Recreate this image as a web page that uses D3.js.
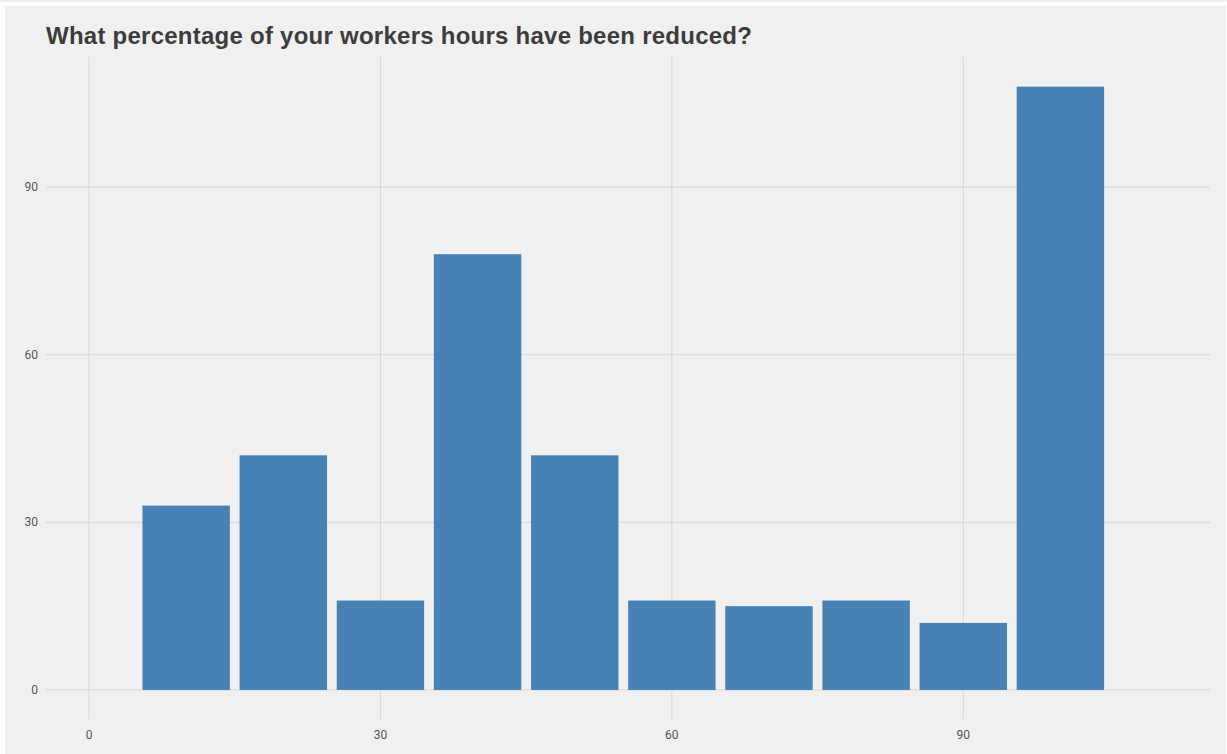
<!DOCTYPE html>
<html>
  <head>
    <title>Reduced hours</title>
    <script src="https://cdn.jsdelivr.net/npm/d3@7"></script>
    <style>
      body { margin: 0; background: #ffffff; }
      .tick-label { font-family: Roboto, "Liberation Sans", sans-serif; }
      .title { font-family: "Liberation Sans", Arial, sans-serif; font-weight: bold; letter-spacing: 0.25px; }
    </style>
  </head>
  <body>
    <svg width="1227" height="754" id="mainsvg"></svg>
    <script>
      // percentage bins (bar centres) and counts
      const bins = [10, 20, 30, 40, 50, 60, 70, 80, 90, 100];
      const counts = [33, 42, 16, 78, 42, 16, 15, 16, 12, 108];
      const xTicks = [0, 30, 60, 90];
      const yTicks = [0, 30, 60, 90];
      const title = 'What percentage of your workers hours have been reduced?';

      const svg = d3.select('#mainsvg');
      const width = +svg.attr('width');
      const height = +svg.attr('height');

      // background
      svg.append('rect').attr('x', 0).attr('y', 0).attr('width', width).attr('height', 2)
        .attr('fill', '#f0f0f0');
      svg.append('rect').attr('x', 5).attr('y', 6).attr('width', width - 6).attr('height', height - 6)
        .attr('fill', '#f0f0f0');

      const panel = {left: 46, right: 1210, top: 57, bottom: 719};

      const xScale = d3.scaleLinear().domain([-4.43, 115.4]).range([panel.left, panel.right]);
      const yScale = d3.scaleLinear().domain([-5.2, 113.3]).range([panel.bottom, panel.top]);

      const g = svg.append('g');

      // grid
      g.selectAll('.hgrid').data(yTicks).join('line')
        .attr('class', 'hgrid')
        .attr('x1', panel.left).attr('x2', panel.right)
        .attr('y1', d => yScale(d)).attr('y2', d => yScale(d))
        .attr('stroke', '#d6d6d6').attr('stroke-width', 1);
      g.selectAll('.vgrid').data(xTicks).join('line')
        .attr('class', 'vgrid')
        .attr('y1', panel.top).attr('y2', panel.bottom)
        .attr('x1', d => xScale(d)).attr('x2', d => xScale(d))
        .attr('stroke', '#d6d6d6').attr('stroke-width', 1);

      // bars
      const barW = 9;
      g.selectAll('rect.bar').data(bins).join('rect')
        .attr('class', 'bar')
        .attr('x', d => xScale(d - barW / 2))
        .attr('width', d => xScale(d + barW / 2) - xScale(d - barW / 2))
        .attr('y', (d, i) => yScale(counts[i]))
        .attr('height', (d, i) => yScale(0) - yScale(counts[i]))
        .attr('fill', '#4682b4');

      // tick labels
      g.selectAll('.xlab').data(xTicks).join('text')
        .attr('class', 'tick-label')
        .attr('x', d => xScale(d)).attr('y', 739)
        .attr('text-anchor', 'middle')
        .attr('font-size', 12).attr('fill', '#555')
        .text(d => d);
      g.selectAll('.ylab').data(yTicks).join('text')
        .attr('class', 'tick-label')
        .attr('x', 38).attr('y', d => yScale(d) + 4)
        .attr('text-anchor', 'end')
        .attr('font-size', 12).attr('fill', '#555')
        .text(d => d);

      // title
      svg.append('text')
        .attr('class', 'title')
        .attr('x', 46).attr('y', 44)
        .attr('font-size', 24)
        .attr('fill', '#3c3c3c')
        .text(title);
    </script>
  </body>
</html>
